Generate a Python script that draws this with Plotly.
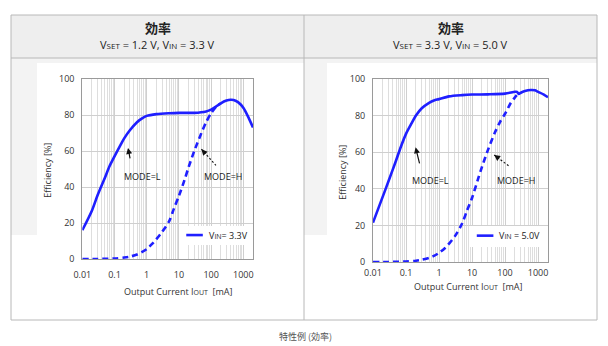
import math
import plotly.graph_objects as go

# ---- data: efficiency [%] vs output current [mA] ----
# VSET = 1.2 V, VIN = 3.3 V
cur_l_33 = [0.01, 0.02, 0.03, 0.05, 0.07, 0.1, 0.15, 0.2, 0.3, 0.5, 0.7, 1, 2, 5, 10, 30, 70,
            100, 150, 200, 300, 400, 500, 700, 1000, 1500, 2000]
eff_l_33 = [16, 27, 35.5, 45, 51.5, 57, 63, 67, 71.5, 76, 78, 79.5, 80.5, 81, 81.2, 81.2, 82,
            83, 85, 86.5, 88, 88.5, 88.3, 87, 84, 78, 73]
cur_h_33 = [0.01, 0.03, 0.1, 0.2, 0.3, 0.5, 0.7, 1, 1.5, 2, 3, 5, 7, 10, 15, 20, 30, 50, 70,
            100, 150, 200]
eff_h_33 = [0, 0, 0.3, 0.8, 1.3, 2.5, 3.8, 5.5, 8.5, 11, 15, 21, 28, 35, 44, 51, 60, 70, 76,
            81, 85, 86.5]

# VSET = 3.3 V, VIN = 5.0 V
cur_l_50 = [0.01, 0.02, 0.03, 0.05, 0.07, 0.1, 0.15, 0.2, 0.3, 0.5, 0.7, 1, 2, 5, 10, 30, 100,
            200, 230, 260, 300, 400, 600, 800, 1000, 1500, 2000]
eff_l_50 = [21.5, 36, 44.5, 55.5, 63, 70, 76, 80, 84, 87, 88.3, 89, 90.5, 91.2, 91.5, 91.6, 92,
            93, 93, 91.8, 92.5, 93.4, 94, 93.8, 93, 91.5, 90]
cur_h_50 = [0.01, 0.03, 0.1, 0.2, 0.3, 0.5, 0.7, 1, 1.5, 2, 3, 5, 7, 10, 15, 20, 30, 50, 70,
            100, 150, 200, 250]
eff_h_50 = [0, 0, 0.3, 0.7, 1.2, 2.2, 3.3, 5, 7.5, 10, 14, 21, 28, 35, 45, 52, 61, 71, 76.5,
            81, 87, 90, 92]

x_tick_vals = [0.01, 0.1, 1, 10, 100, 1000]
x_tick_text = ["0.01", "0.1", "1", "10", "100", "1000"]
y_tick_vals = [0, 20, 40, 60, 80, 100]
minor_vals = [m * 10 ** e for e in range(-2, 4) for m in range(2, 10) if m * 10 ** e <= 2000]

headers = ["V<span style='font-size:8px'>SET</span> = 1.2 V, V<span style='font-size:8px'>IN</span> = 3.3 V",
           "V<span style='font-size:8px'>SET</span> = 3.3 V, V<span style='font-size:8px'>IN</span> = 5.0 V"]
legend_text = ["V<span style='font-size:7px'>IN</span>= 3.3V",
               "V<span style='font-size:7px'>IN</span> = 5.0V"]

BLUE = "#1f1fff"
FONT = "Open Sans, Noto Sans, sans-serif"
W, H = 608, 346
X_LO, X_HI = -2, math.log10(2000)


def px(x):
    return x / W


def py(y):
    return 1 - y / H


fig = go.Figure()

panels = [
    dict(xa="x", ya="y", cl=cur_l_33, el=eff_l_33, ch=cur_h_33, eh=eff_h_33),
    dict(xa="x2", ya="y2", cl=cur_l_50, el=eff_l_50, ch=cur_h_50, eh=eff_h_50),
]
for p in panels:
    fig.add_trace(go.Scatter(x=p["cl"], y=p["el"], xaxis=p["xa"], yaxis=p["ya"], mode="lines",
                             line=dict(color=BLUE, width=2.6, shape="spline", smoothing=0.8),
                             showlegend=False, hoverinfo="skip"))
    fig.add_trace(go.Scatter(x=p["ch"], y=p["eh"], xaxis=p["xa"], yaxis=p["ya"], mode="lines",
                             line=dict(color=BLUE, width=2.6, dash="6px,4px", shape="spline",
                                       smoothing=0.8),
                             showlegend=False, hoverinfo="skip"))

axis_font = dict(family=FONT, size=9, color="#333")
xax = dict(type="log", range=[X_LO, X_HI], tickmode="array", tickvals=x_tick_vals,
           ticktext=x_tick_text, showgrid=True, gridcolor="#cfcfcf", gridwidth=1,
           minor=dict(tickmode="array", tickvals=minor_vals, showgrid=True,
                      gridcolor="#dedede", gridwidth=1, ticks=""),
           showline=True, mirror=True, linecolor="#9a9a9a", linewidth=1, automargin=False,
           ticks="outside", tickcolor="rgba(0,0,0,0)", tickfont=axis_font, zeroline=False)
yax = dict(range=[0, 100], tickmode="array", tickvals=y_tick_vals, showgrid=True,
           gridcolor="#cfcfcf", gridwidth=1, showline=True, mirror=True, automargin=False,
           linecolor="#9a9a9a", linewidth=1, ticks="outside", ticklen=5,
           tickcolor="rgba(0,0,0,0)", tickfont=axis_font, zeroline=False)

fig.update_layout(
    width=W, height=H, margin=dict(l=0, r=0, t=0, b=0, autoexpand=False),
    paper_bgcolor="white", plot_bgcolor="white",
    xaxis=dict(xax, domain=[82.3 / W, 253 / W], anchor="y", ticklen=7),
    yaxis=dict(yax, domain=[py(259), py(79)], anchor="x"),
    xaxis2=dict(xax, domain=[373 / W, 548 / W], anchor="y2", ticklen=2),
    yaxis2=dict(yax, domain=[py(262), py(79)], anchor="x2"),
)

shapes = []
# table frame: header band, soft image frames, borders
shapes.append(dict(type="rect", xref="paper", yref="paper", x0=px(11), x1=px(597), y0=py(58), y1=py(15),
                   fillcolor="#eeeeee", line=dict(width=0), layer="below"))
for x0, xi in [(11, 37), (304, 327)]:
    shapes.append(dict(type="rect", xref="paper", yref="paper", x0=px(x0), x1=px(x0 + 293), y0=py(235),
                       y1=py(58), fillcolor="#f3f3f3", line=dict(width=0), layer="below"))
    shapes.append(dict(type="rect", xref="paper", yref="paper", x0=px(xi), x1=px(x0 + 293), y0=py(320),
                       y1=py(63), fillcolor="white", line=dict(width=0), layer="below"))
shapes.append(dict(type="line", xref="paper", yref="paper", x0=px(11), x1=px(597), y0=py(58), y1=py(58),
                   line=dict(color="#b8b8b8", width=1)))
shapes.append(dict(type="line", xref="paper", yref="paper", x0=px(304), x1=px(304), y0=py(320), y1=py(15),
                   line=dict(color="#b8b8b8", width=1)))
shapes.append(dict(type="rect", xref="paper", yref="paper", x0=px(11), x1=px(597), y0=py(320), y1=py(15),
                   line=dict(color="#b8b8b8", width=1)))

annotations = []


def paper_text(x, y, text, font, angle=0):
    annotations.append(dict(xref="paper", yref="paper", x=px(x), y=py(y), text=text, textangle=angle,
                            xanchor="center", yanchor="middle", showarrow=False, font=font))


centers = [157.5, 450.5]
for i, c in enumerate(centers):
    paper_text(c, 27, "<b>効率</b>", dict(family="Noto Sans CJK JP", size=13, color="#222"))
    paper_text(c, 44, headers[i], dict(family="Liberation Sans Narrow, " + FONT, size=11, color="#222"))

# axis titles
for xc, yc in [(46.7, 170), (341.7, 172)]:
    paper_text(xc, yc, "Efficiency [%]", dict(family=FONT, size=9, color="#333"), angle=-90)
for xc, yc in [(178, 291), (468, 286)]:
    paper_text(xc, yc, "Output Current I<span style='font-size:7px'>OUT</span>  [mA]",
               dict(family=FONT, size=9, color="#333"))

# mode labels and arrows, per panel
mode_cfg = [
    dict(xa="x", ya="y", l_txt=(-0.124, 45.6), h_txt=(2.379, 45.6),
         l_head=(-0.58, 61.7), l_off=(2.3, 12), h_head=(1.70, 61), h_tail=(2.15, 52), h_off=(14.5, 16.2)),
    dict(xa="x2", ya="y2", l_txt=(-0.252, 44.4), h_txt=(2.324, 44.4),
         l_head=(-0.71, 62.7), l_off=(4.3, 17.7), h_head=(1.67, 58.5), h_tail=(2.15, 52), h_off=(16, 11.7)),
]
for m in mode_cfg:
    for txt, pos in [("MODE=L", m["l_txt"]), ("MODE=H", m["h_txt"])]:
        annotations.append(dict(xref=m["xa"], yref=m["ya"], x=pos[0], y=pos[1], text=txt, showarrow=False,
                                xanchor="center", yanchor="middle",
                                font=dict(family=FONT, size=9, color="#222")))
    annotations.append(dict(xref=m["xa"], yref=m["ya"], x=m["l_head"][0], y=m["l_head"][1], text="",
                            showarrow=True, arrowhead=2, arrowsize=1, arrowwidth=1.2, arrowcolor="#111",
                            ax=m["l_off"][0], ay=m["l_off"][1], standoff=0))
    annotations.append(dict(xref=m["xa"], yref=m["ya"], x=m["h_head"][0], y=m["h_head"][1], text="",
                            showarrow=True, arrowhead=2, arrowsize=1, arrowwidth=1.2, arrowcolor="#111",
                            ax=m["h_off"][0] * 0.35, ay=m["h_off"][1] * 0.35, standoff=0))
    xd = m["xa"] + " domain"
    yd = m["ya"] + " domain"
    shapes.append(dict(type="line", xref=xd, yref=yd,
                       x0=(m["h_head"][0] - X_LO) / (X_HI - X_LO), y0=m["h_head"][1] / 100,
                       x1=(m["h_tail"][0] - X_LO) / (X_HI - X_LO), y1=m["h_tail"][1] / 100,
                       line=dict(color="#111", width=1.1, dash="2px,2px")))

# in-plot legends
leg_cfg = [
    dict(xa="x", ya="y", box=(0.582, 1.0, 0.078, 0.183), line=(0.609, 0.706, 0.133), tx=0.729),
    dict(xa="x2", ya="y2", box=(0.554, 1.0, 0.082, 0.197), line=(0.593, 0.688, 0.144), tx=0.707),
]
for i, lg in enumerate(leg_cfg):
    xd = lg["xa"] + " domain"
    yd = lg["ya"] + " domain"
    b = lg["box"]
    shapes.append(dict(type="rect", xref=xd, yref=yd, x0=b[0], x1=b[1] - 0.006, y0=b[2], y1=b[3],
                       fillcolor="white", line=dict(width=0), layer="above"))
    ln = lg["line"]
    shapes.append(dict(type="line", xref=xd, yref=yd, x0=ln[0], x1=ln[1], y0=ln[2], y1=ln[2],
                       line=dict(color=BLUE, width=2.6)))
    annotations.append(dict(xref=xd, yref=yd, x=lg["tx"], y=ln[2], xanchor="left", yanchor="middle",
                            text=legend_text[i], showarrow=False, font=dict(family=FONT, size=9, color="#222")))

paper_text(305, 336, "特性例 (効率)", dict(family="Noto Sans CJK JP", size=9, color="#555"))

fig.update_layout(shapes=shapes, annotations=annotations)
fig.write_html("out.html")
